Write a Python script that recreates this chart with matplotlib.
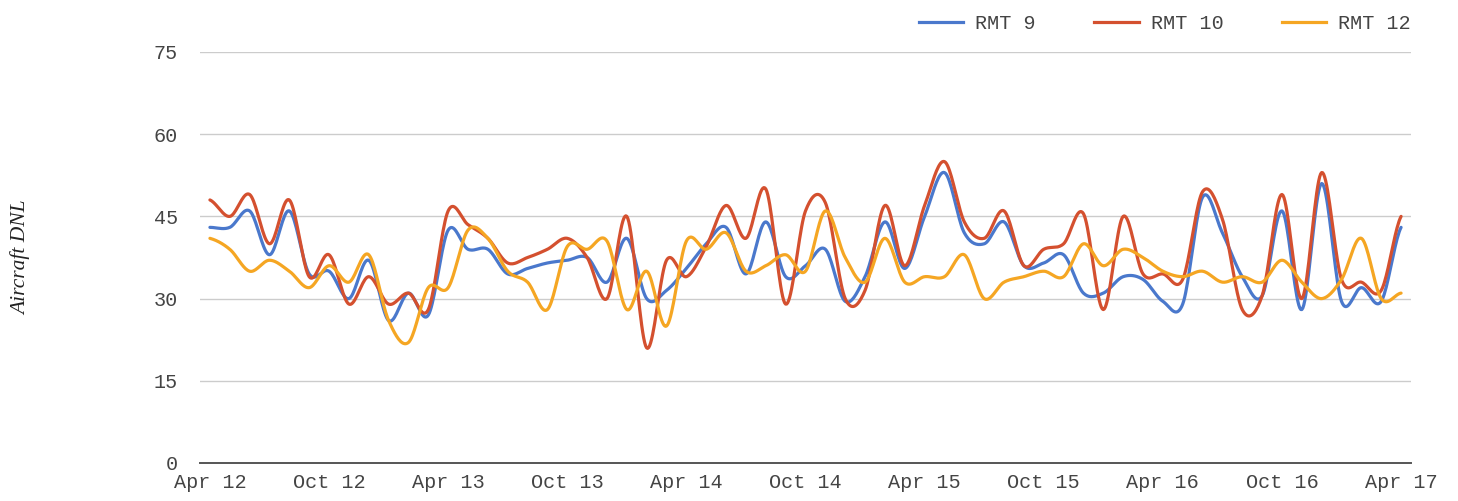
import numpy as np
import matplotlib
matplotlib.use("Agg")
import matplotlib.pyplot as plt
from matplotlib.lines import Line2D

# ---- data (monthly, Apr 2012 .. Apr 2017) ----
tick_labels = ["Apr 12", "Oct 12", "Apr 13", "Oct 13", "Apr 14", "Oct 14",
               "Apr 15", "Oct 15", "Apr 16", "Oct 16", "Apr 17"]
series_names = ["RMT 9", "RMT 10", "RMT 12"]

rmt9 = [43, 43, 46, 38, 46, 34.5, 35, 30, 37, 26, 31, 27, 42.5, 39, 39, 34.5,
        35.5, 36.5, 37, 37.5, 33, 41, 30, 31.5, 35.5, 40, 43, 34.5, 44, 34,
        36, 39, 29.5, 34, 44, 35.5, 45, 53, 42, 40, 44, 36, 36.5, 38, 31, 31,
        34, 33.5, 29.5, 29, 48.5, 42, 34, 30.5, 46, 28, 51, 29.5, 32, 29.5, 43]
rmt10 = [48, 45, 49, 40, 48, 34, 38, 29, 34, 29, 31, 28, 46, 43.5, 41, 36.5,
         37.5, 39, 41, 37.5, 30, 45, 21, 37, 34, 39.5, 47, 41, 50, 29, 46,
         47.5, 30, 31.5, 47, 36, 47, 55, 44, 41, 46, 36, 39, 40, 45.5, 28, 45,
         34.5, 34.5, 33.5, 49.5, 44.5, 28, 30.5, 49, 30, 53, 33.5, 33, 31.5, 45]
rmt12 = [41, 39, 35, 37, 35, 32, 36, 33, 38, 26, 22, 32, 32, 42.5, 41, 35, 33,
         28, 39.5, 39, 40.5, 28, 35, 25, 40.5, 39, 42, 35, 36, 38, 35, 46,
         37.5, 33, 41, 33, 34, 34, 38, 30, 33, 34, 35, 34, 40, 36, 39, 37.5,
         35, 34, 35, 33, 34, 33, 37, 33, 30, 33.5, 41, 30, 31]

colors = ["#4a78cc", "#d4502f", "#f5a623"]


def smooth(y, n=20):
    """Catmull-Rom curve through every point (rendering only)."""
    y = np.asarray(y, float)
    x = np.arange(len(y), dtype=float)
    yp = np.concatenate([[y[0]], y, [y[-1]]])
    xs, ys = [], []
    for i in range(len(y) - 1):
        p0, p1, p2, p3 = yp[i], yp[i + 1], yp[i + 2], yp[i + 3]
        t = np.linspace(0, 1, n, endpoint=False)
        m1 = (p2 - p0) / 2.0
        m2 = (p3 - p1) / 2.0
        h00 = 2 * t**3 - 3 * t**2 + 1
        h10 = t**3 - 2 * t**2 + t
        h01 = -2 * t**3 + 3 * t**2
        h11 = t**3 - t**2
        ys.append(h00 * p1 + h10 * m1 + h01 * p2 + h11 * m2)
        xs.append(x[i] + t)
    xs.append([x[-1]])
    ys.append([y[-1]])
    return np.concatenate(xs), np.concatenate(ys)


W, H = 1458, 501
fig = plt.figure(figsize=(W / 100, H / 100), dpi=100)
ax = fig.add_axes([200 / W, 38 / H, 1211 / W, 411 / H])

tick_font = "Liberation Mono"
fs = 14.5
for vals, col, name in zip([rmt9, rmt10, rmt12], colors, series_names):
    xs, ys = smooth(vals)
    ax.plot(xs, ys, color=col, lw=2.3, label=name, solid_capstyle="round",
            zorder=3)

n = len(rmt9)
ax.set_xlim(-0.5, n - 0.5)
ax.set_ylim(0, 75)
ax.set_yticks([0, 15, 30, 45, 60, 75])
ax.set_xticks(np.arange(0, n, 6))
ax.set_xticklabels(tick_labels)
ax.grid(axis="y", color="#cccccc", lw=1)
ax.set_axisbelow(True)
for s in ["top", "right", "left"]:
    ax.spines[s].set_visible(False)
ax.spines["bottom"].set_color("#555555")
ax.spines["bottom"].set_linewidth(1.4)
ax.tick_params(axis="both", length=0, colors="#444444", labelsize=fs)
ax.tick_params(axis="y", pad=16)
ax.tick_params(axis="x", pad=7)
for lab in ax.get_xticklabels() + ax.get_yticklabels():
    lab.set_fontfamily(tick_font)

fig.text(21 / W, 1 - 258 / H, "Aircraft DNL", rotation=90, ha="center",
         va="center", fontsize=15.5, fontstyle="italic",
         fontfamily="Liberation Serif", color="#222222")

handles = [Line2D([0], [0], color=c, lw=2.3) for c in colors]
leg = fig.legend(handles, series_names, loc="upper right",
                 bbox_to_anchor=(1429 / W, 1 + 4 / H), ncol=3, frameon=False,
                 handlelength=2.2, columnspacing=2.9, handletextpad=0.6,
                 prop={"family": tick_font, "size": fs})
for t in leg.get_texts():
    t.set_color("#444444")

fig.savefig("out.png", dpi=100, facecolor="white")
